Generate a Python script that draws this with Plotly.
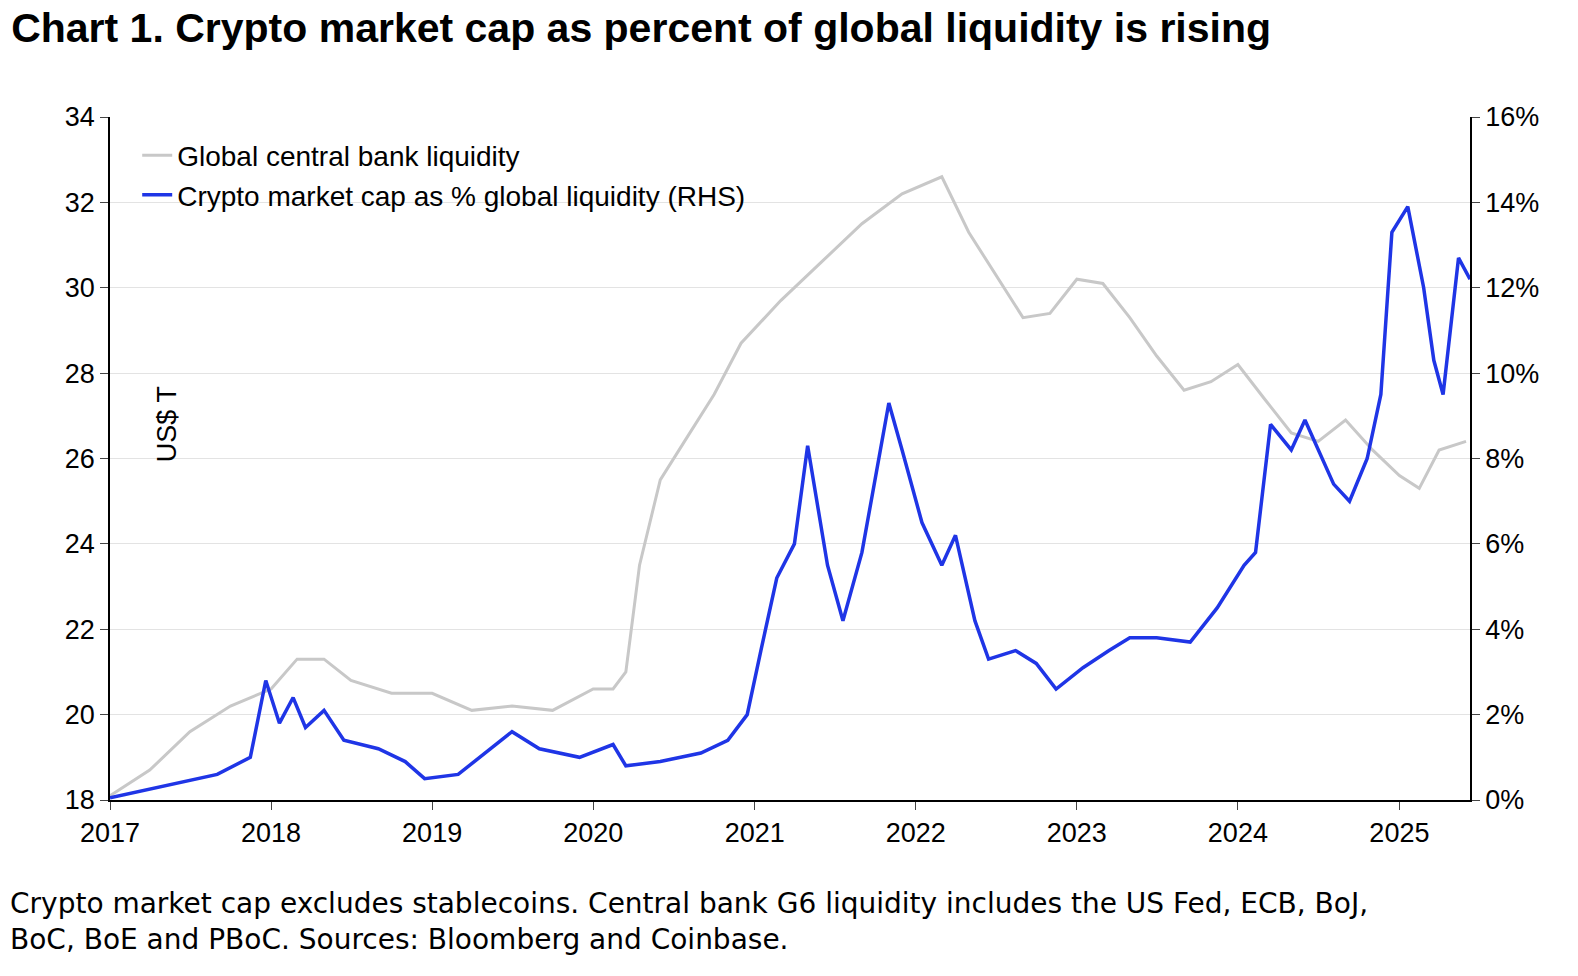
import plotly.graph_objects as go

liq_dates = ["2017-01-01","2017-04-01","2017-07-01","2017-10-01","2018-01-01","2018-03-01","2018-05-01","2018-07-01","2018-10-01",
 "2019-01-01","2019-04-01","2019-07-01","2019-10-01","2020-01-01","2020-02-15","2020-03-15","2020-04-15","2020-06-01","2020-08-01",
 "2020-10-01","2020-12-01","2021-03-01","2021-06-01","2021-09-01","2021-12-01","2022-03-01","2022-05-01","2022-07-01","2022-09-01",
 "2022-11-01","2023-01-01","2023-03-01","2023-05-01","2023-07-01","2023-09-01","2023-11-01","2024-01-01","2024-03-01","2024-05-01",
 "2024-07-01","2024-09-01","2024-11-01","2025-01-01","2025-02-15","2025-04-01","2025-06-01"]
liq_vals = [18.1,18.7,19.6,20.2,20.6,21.3,21.3,20.8,20.5,20.5,20.1,20.2,20.1,20.6,20.6,21.0,23.5,25.5,26.5,27.5,28.7,29.7,30.6,31.5,32.2,
 32.6,31.3,30.3,29.3,29.4,30.2,30.1,29.3,28.4,27.6,27.8,28.2,27.4,26.6,26.4,26.9,26.2,25.6,25.3,26.2,26.4]

cr_dates = ["2017-01-01","2017-06-01","2017-09-01","2017-11-15","2017-12-20","2018-01-20","2018-02-20","2018-03-20","2018-05-01",
 "2018-06-15","2018-09-01","2018-11-01","2018-12-15","2019-03-01","2019-05-01","2019-07-01","2019-09-01","2019-12-01","2020-02-15",
 "2020-03-15","2020-06-01","2020-09-01","2020-11-01","2020-12-15","2021-01-15","2021-02-20","2021-04-01","2021-05-01","2021-06-15",
 "2021-07-20","2021-09-01","2021-11-01","2021-12-01","2022-01-15","2022-03-01","2022-04-01","2022-05-15","2022-06-15","2022-08-15",
 "2022-10-01","2022-11-15","2023-01-15","2023-03-15","2023-05-01","2023-07-01","2023-09-15","2023-11-15","2024-01-15","2024-02-10",
 "2024-03-15","2024-05-01","2024-06-01","2024-08-05","2024-09-10","2024-10-20","2024-11-20","2024-12-15","2025-01-20","2025-02-25",
 "2025-03-20","2025-04-10","2025-05-15","2025-06-10"]
cr_vals = [0.05,0.4,0.6,1.0,2.8,1.8,2.4,1.7,2.1,1.4,1.2,0.9,0.5,0.6,1.1,1.6,1.2,1.0,1.3,0.8,0.9,1.1,1.4,2.0,3.5,5.2,6.0,8.3,5.5,
 4.2,5.8,9.3,8.2,6.5,5.5,6.2,4.2,3.3,3.5,3.2,2.6,3.1,3.5,3.8,3.8,3.7,4.5,5.5,5.8,8.8,8.2,8.9,7.4,7.0,8.0,9.5,13.3,13.9,12.0,
 10.3,9.5,12.7,12.2]

left_ticks = list(range(18, 35, 2))
right_ticks = list(range(0, 17, 2))
right_labels = [f"{v}%" for v in right_ticks]
year_ticks = [f"{y}-01-01" for y in range(2017, 2026)]
year_labels = [str(y) for y in range(2017, 2026)]

fig = go.Figure()
fig.add_trace(go.Scatter(x=liq_dates, y=liq_vals, mode="lines", name="Global central bank liquidity",
                         line=dict(color="#c8c8c8", width=3)))
fig.add_trace(go.Scatter(x=cr_dates, y=cr_vals, mode="lines", name="Crypto market cap as % global liquidity (RHS)",
                         line=dict(color="#1f35e6", width=3.5), yaxis="y2"))

tf = dict(family="Liberation Sans, Arial", size=27, color="black")
fig.update_layout(
    width=1578, height=976, paper_bgcolor="white", plot_bgcolor="white",
    margin=dict(l=102, r=116, t=109, b=184),
    title=dict(text="<b>Chart 1. Crypto market cap as percent of global liquidity is rising</b>",
               x=0.002, xanchor="left", y=0.995, yanchor="top",
               font=dict(family="Liberation Sans, Arial", size=41, color="black")),
    xaxis=dict(type="date", range=["2017-01-01", "2025-06-10"], tickvals=year_ticks, ticktext=year_labels,
               showgrid=False, showline=True, linecolor="black", linewidth=1.5, ticks="outside",
               ticklen=8, tickfont=tf, zeroline=False),
    yaxis=dict(range=[18, 34], tickvals=left_ticks, showgrid=True, gridcolor="#e3e3e3",
               showline=True, linecolor="black", linewidth=1.5, ticks="outside", ticklen=8, tickfont=tf, zeroline=False),
    yaxis2=dict(range=[0, 16], tickvals=right_ticks, ticktext=right_labels, overlaying="y", side="right",
                showgrid=False, showline=True, linecolor="black", linewidth=1.5, ticks="outside", ticklen=8,
                tickfont=tf, zeroline=False),
    legend=dict(x=0.02, y=0.98, xanchor="left", yanchor="top", bgcolor="rgba(0,0,0,0)",
                font=dict(family="Liberation Sans, Arial", size=28, color="black")),
    showlegend=True,
)
fig.add_annotation(text="US$ T", xref="paper", yref="paper", x=0.03, y=0.55, showarrow=False,
                   textangle=-90, font=dict(family="Liberation Sans, Arial", size=27, color="black"))
fig.add_annotation(text="Crypto market cap excludes stablecoins. Central bank G6 liquidity includes the US Fed, ECB, BoJ,<br>BoC, BoE and PBoC. Sources: Bloomberg and Coinbase.",
                   xref="paper", yref="paper", x=-0.075, y=-0.125, xanchor="left", yanchor="top", align="left",
                   showarrow=False, font=dict(family="DejaVu Sans", size=28, color="black"))
fig.write_html("out.html")
